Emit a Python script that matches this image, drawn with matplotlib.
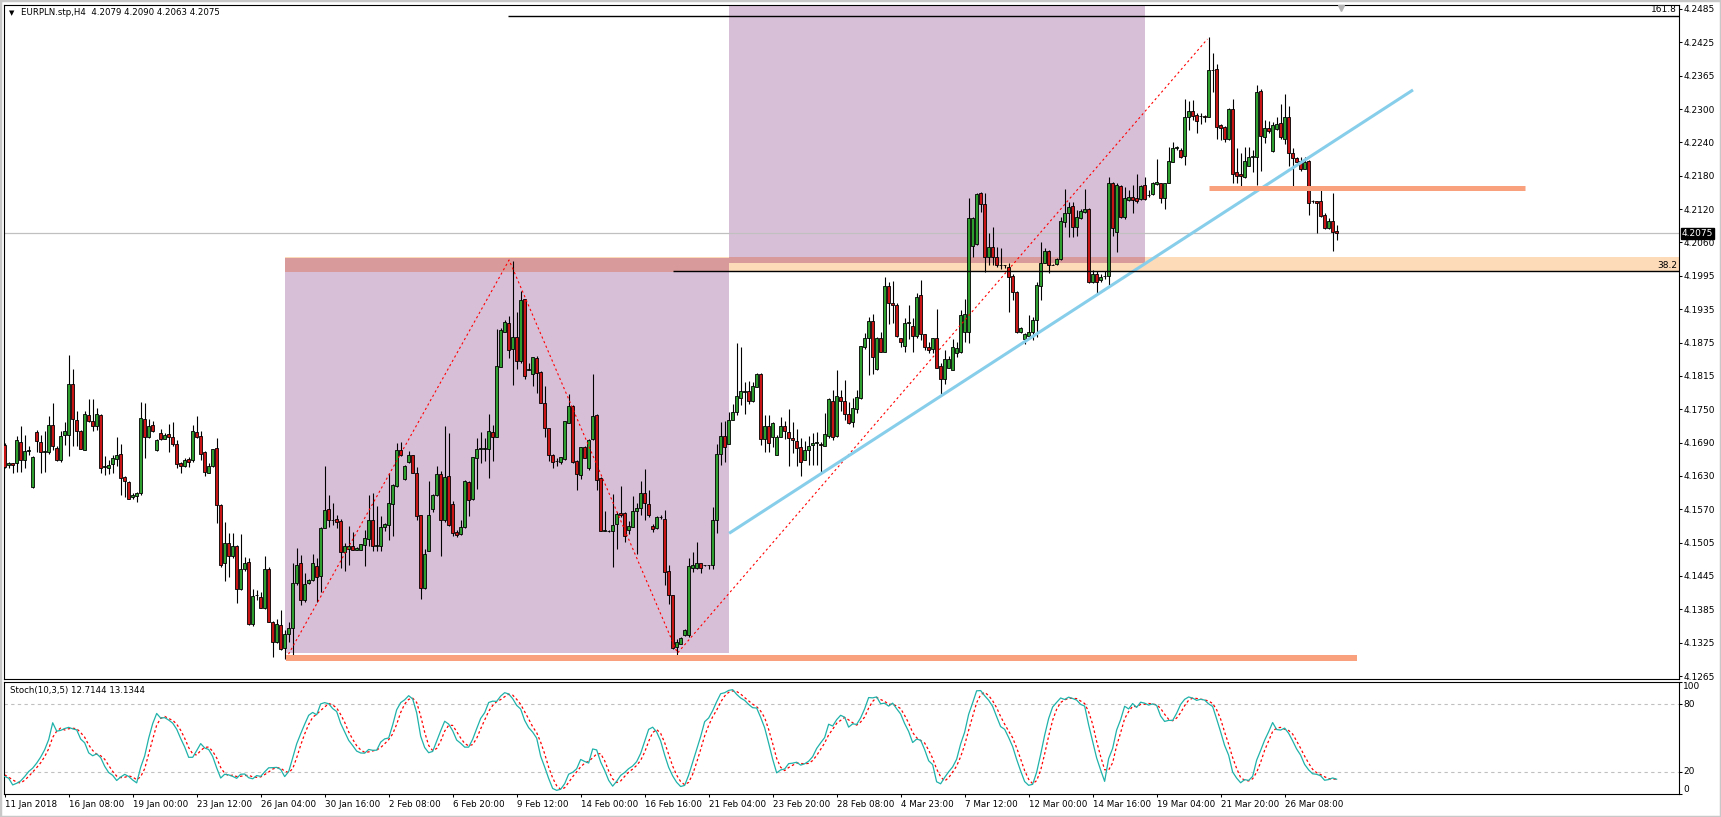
import numpy as np
import matplotlib.pyplot as plt
from matplotlib.patches import Rectangle
from matplotlib.transforms import blended_transform_factory

plt.rcParams['font.family'] = ['DejaVu Sans']

# EURPLN.stp H4 candles, bar 0 = 11 Jan 2018
opens = [
    4.1688, 4.1651, 4.1654, 4.1654, 4.1693, 4.1660, 4.1677, 4.1610, 4.1711, 4.1693,
    4.1675, 4.1675, 4.1724, 4.1682, 4.1660, 4.1706, 4.1705, 4.1799, 4.1733, 4.1713,
    4.1679, 4.1743, 4.1732, 4.1722, 4.1743, 4.1648, 4.1645, 4.1652, 4.1662, 4.1671,
    4.1629, 4.1620, 4.1592, 4.1595, 4.1600, 4.1735, 4.1702, 4.1724, 4.1679, 4.1709,
    4.1699, 4.1707, 4.1703, 4.1689, 4.1655, 4.1650, 4.1662, 4.1660, 4.1711, 4.1704,
    4.1674, 4.1637, 4.1649, 4.1682, 4.1578, 4.1471, 4.1508, 4.1485, 4.1503, 4.1424,
    4.1460, 4.1474, 4.1361, 4.1413, 4.1410, 4.1389, 4.1461, 4.1364, 4.1328, 4.1358,
    4.1316, 4.1341, 4.1352, 4.1435, 4.1471, 4.1404, 4.1435, 4.1440, 4.1466, 4.1448,
    4.1536, 4.1570, 4.1550, 4.1552, 4.1548, 4.1491, 4.1498, 4.1503, 4.1496, 4.1496,
    4.1504, 4.1515, 4.1550, 4.1503, 4.1503, 4.1537, 4.1541, 4.1579, 4.1612, 4.1678,
    4.1625, 4.1656, 4.1669, 4.1637, 4.1559, 4.1426, 4.1494, 4.1570, 4.1596, 4.1634,
    4.1550, 4.1631, 4.1579, 4.1528, 4.1524, 4.1537, 4.1619, 4.1588, 4.1664, 4.1681,
    4.1681, 4.1680, 4.1711, 4.1703, 4.1831, 4.1895, 4.1910, 4.1864, 4.1886, 4.1842,
    4.1954, 4.1825, 4.1817, 4.1847, 4.1821, 4.1765, 4.1718, 4.1670, 4.1658, 4.1657,
    4.1662, 4.1728, 4.1759, 4.1659, 4.1632, 4.1684, 4.1646, 4.1698, 4.1743, 4.1628,
    4.1531, 4.1531, 4.1531, 4.1543, 4.1564, 4.1564, 4.1533, 4.1538, 4.1567, 4.1573,
    4.1599, 4.1579, 4.1539, 4.1535, 4.1556, 4.1553, 4.1457, 4.1413, 4.1318, 4.1324,
    4.1340, 4.1340, 4.1462, 4.1462, 4.1471, 4.1468, 4.1468, 4.1468, 4.1551, 4.1672,
    4.1704, 4.1690, 4.1734, 4.1748, 4.1774, 4.1785, 4.1787, 4.1768, 4.1794, 4.1817,
    4.1698, 4.1723, 4.1703, 4.1670, 4.1703, 4.1722, 4.1712, 4.1701, 4.1695, 4.1684,
    4.1661, 4.1678, 4.1687, 4.1692, 4.1690, 4.1686, 4.1704, 4.1768, 4.1704, 4.1776,
    4.1768, 4.1745, 4.1729, 4.1754, 4.1774, 4.1867, 4.1884, 4.1914, 4.1826, 4.1884,
    4.1858, 4.1978, 4.1947, 4.1944, 4.1883, 4.1869, 4.1911, 4.1906, 4.1887, 4.1962,
    4.1890, 4.1867, 4.1864, 4.1884, 4.1832, 4.1808, 4.1829, 4.1825, 4.1855, 4.1857,
    4.1895, 4.1895, 4.2052, 4.2056, 4.2148, 4.2128, 4.2031, 4.2049, 4.2032, 4.2017,
    4.2016, 4.2014, 4.1996, 4.1968, 4.1895, 4.1882, 4.1887, 4.1895, 4.1916, 4.1979,
    4.2021, 4.2042, 4.2017, 4.2018, 4.2028, 4.2096, 4.2111, 4.2125, 4.2087, 4.2103,
    4.2113, 4.2120, 4.1986, 4.2000, 4.1989, 4.1997, 4.1997, 4.2166, 4.2078, 4.2162,
    4.2105, 4.2136, 4.2142, 4.2139, 4.2137, 4.2163, 4.2144, 4.2147, 4.2165, 4.2166,
    4.2140, 4.2167, 4.2206, 4.2231, 4.2227, 4.2216, 4.2287, 4.2298, 4.2292, 4.2289,
    4.2290, 4.2288, 4.2373, 4.2375, 4.2273, 4.2269, 4.2247, 4.2303, 4.2186, 4.2183,
    4.2178, 4.2198, 4.2215, 4.2215, 4.2335, 4.2250, 4.2268, 4.2226, 4.2265, 4.2276,
    4.2248, 4.2287, 4.2221, 4.2212, 4.2207, 4.2192, 4.2207, 4.2133, 4.2133, 4.2133,
    4.2108, 4.2084, 4.2097, 4.2079,
]
highs = [
    4.1691, 4.1657, 4.1655, 4.1704, 4.1722, 4.1706, 4.1685, 4.1667, 4.1715, 4.1706,
    4.1713, 4.1741, 4.1765, 4.1685, 4.1713, 4.1730, 4.1852, 4.1827, 4.1750, 4.1715,
    4.1750, 4.1771, 4.1771, 4.1756, 4.1744, 4.1668, 4.1661, 4.1669, 4.1703, 4.1689,
    4.1631, 4.1621, 4.1600, 4.1602, 4.1766, 4.1765, 4.1736, 4.1732, 4.1698, 4.1716,
    4.1709, 4.1726, 4.1730, 4.1697, 4.1657, 4.1663, 4.1666, 4.1725, 4.1741, 4.1713,
    4.1677, 4.1654, 4.1681, 4.1701, 4.1579, 4.1546, 4.1527, 4.1526, 4.1505, 4.1524,
    4.1483, 4.1480, 4.1424, 4.1422, 4.1419, 4.1485, 4.1465, 4.1365, 4.1370, 4.1386,
    4.1349, 4.1363, 4.1471, 4.1499, 4.1486, 4.1454, 4.1442, 4.1489, 4.1480, 4.1538,
    4.1650, 4.1597, 4.1581, 4.1560, 4.1553, 4.1509, 4.1539, 4.1529, 4.1501, 4.1507,
    4.1533, 4.1597, 4.1599, 4.1576, 4.1557, 4.1544, 4.1637, 4.1616, 4.1692, 4.1693,
    4.1651, 4.1676, 4.1670, 4.1648, 4.1560, 4.1497, 4.1621, 4.1598, 4.1649, 4.1640,
    4.1722, 4.1710, 4.1585, 4.1532, 4.1550, 4.1623, 4.1621, 4.1666, 4.1700, 4.1712,
    4.1700, 4.1745, 4.1725, 4.1899, 4.1901, 4.1916, 4.1923, 4.2025, 4.1931, 4.1969,
    4.1955, 4.1838, 4.1849, 4.1850, 4.1822, 4.1796, 4.1719, 4.1671, 4.1663, 4.1666,
    4.1732, 4.1780, 4.1760, 4.1660, 4.1684, 4.1685, 4.1698, 4.1817, 4.1744, 4.1629,
    4.1567, 4.1532, 4.1598, 4.1565, 4.1612, 4.1565, 4.1549, 4.1595, 4.1581, 4.1622,
    4.1644, 4.1606, 4.1543, 4.1557, 4.1559, 4.1568, 4.1468, 4.1414, 4.1332, 4.1337,
    4.1351, 4.1480, 4.1492, 4.1510, 4.1472, 4.1469, 4.1469, 4.1574, 4.1690, 4.1730,
    4.1731, 4.1748, 4.1762, 4.1875, 4.1867, 4.1803, 4.1805, 4.1803, 4.1820, 4.1820,
    4.1743, 4.1742, 4.1730, 4.1706, 4.1739, 4.1731, 4.1754, 4.1730, 4.1716, 4.1701,
    4.1695, 4.1704, 4.1709, 4.1712, 4.1693, 4.1746, 4.1773, 4.1789, 4.1825, 4.1789,
    4.1807, 4.1766, 4.1773, 4.1788, 4.1869, 4.1892, 4.1922, 4.1927, 4.1885, 4.1895,
    4.1995, 4.1986, 4.1988, 4.1947, 4.1884, 4.1919, 4.1944, 4.1919, 4.1966, 4.1989,
    4.1891, 4.1876, 4.1884, 4.1936, 4.1838, 4.1861, 4.1850, 4.1881, 4.1876, 4.1934,
    4.1954, 4.2139, 4.2105, 4.2148, 4.2150, 4.2149, 4.2075, 4.2087, 4.2050, 4.2047,
    4.2017, 4.2020, 4.2001, 4.1969, 4.1904, 4.1892, 4.1925, 4.1922, 4.1986, 4.2059,
    4.2047, 4.2044, 4.2018, 4.2029, 4.2105, 4.2155, 4.2132, 4.2132, 4.2117, 4.2120,
    4.2155, 4.2121, 4.2008, 4.2005, 4.2001, 4.2005, 4.2178, 4.2169, 4.2166, 4.2163,
    4.2160, 4.2154, 4.2163, 4.2184, 4.2164, 4.2178, 4.2154, 4.2169, 4.2210, 4.2167,
    4.2167, 4.2233, 4.2241, 4.2234, 4.2230, 4.2320, 4.2316, 4.2319, 4.2294, 4.2294,
    4.2291, 4.2434, 4.2404, 4.2384, 4.2274, 4.2271, 4.2304, 4.2320, 4.2230, 4.2221,
    4.2233, 4.2233, 4.2227, 4.2346, 4.2338, 4.2282, 4.2281, 4.2279, 4.2287, 4.2312,
    4.2329, 4.2308, 4.2230, 4.2215, 4.2215, 4.2215, 4.2209, 4.2136, 4.2134, 4.2161,
    4.2111, 4.2102, 4.2148, 4.2090,
]
lows = [
    4.1645, 4.1645, 4.1637, 4.1639, 4.1639, 4.1645, 4.1669, 4.1609, 4.1675, 4.1636,
    4.1639, 4.1672, 4.1678, 4.1658, 4.1657, 4.1688, 4.1668, 4.1686, 4.1685, 4.1680,
    4.1679, 4.1730, 4.1714, 4.1715, 4.1637, 4.1633, 4.1635, 4.1637, 4.1650, 4.1597,
    4.1593, 4.1588, 4.1589, 4.1583, 4.1596, 4.1663, 4.1700, 4.1711, 4.1677, 4.1696,
    4.1698, 4.1675, 4.1685, 4.1645, 4.1636, 4.1647, 4.1647, 4.1657, 4.1700, 4.1661,
    4.1630, 4.1636, 4.1648, 4.1544, 4.1465, 4.1438, 4.1447, 4.1480, 4.1399, 4.1423,
    4.1458, 4.1358, 4.1357, 4.1404, 4.1389, 4.1388, 4.1363, 4.1300, 4.1325, 4.1313,
    4.1297, 4.1328, 4.1295, 4.1431, 4.1395, 4.1401, 4.1433, 4.1438, 4.1401, 4.1419,
    4.1535, 4.1538, 4.1541, 4.1535, 4.1462, 4.1457, 4.1468, 4.1495, 4.1495, 4.1495,
    4.1466, 4.1503, 4.1494, 4.1494, 4.1494, 4.1530, 4.1514, 4.1521, 4.1610, 4.1668,
    4.1623, 4.1655, 4.1636, 4.1551, 4.1406, 4.1425, 4.1493, 4.1565, 4.1595, 4.1485,
    4.1547, 4.1539, 4.1521, 4.1520, 4.1523, 4.1536, 4.1557, 4.1587, 4.1608, 4.1655,
    4.1659, 4.1628, 4.1659, 4.1702, 4.1830, 4.1894, 4.1847, 4.1798, 4.1826, 4.1837,
    4.1809, 4.1824, 4.1795, 4.1783, 4.1764, 4.1703, 4.1658, 4.1646, 4.1649, 4.1653,
    4.1660, 4.1727, 4.1655, 4.1606, 4.1625, 4.1663, 4.1642, 4.1697, 4.1606, 4.1530,
    4.1531, 4.1529, 4.1465, 4.1498, 4.1556, 4.1510, 4.1524, 4.1537, 4.1488, 4.1560,
    4.1551, 4.1555, 4.1529, 4.1534, 4.1553, 4.1432, 4.1396, 4.1314, 4.1304, 4.1323,
    4.1338, 4.1337, 4.1456, 4.1461, 4.1454, 4.1467, 4.1460, 4.1460, 4.1527, 4.1651,
    4.1657, 4.1689, 4.1733, 4.1742, 4.1760, 4.1745, 4.1762, 4.1767, 4.1793, 4.1687,
    4.1675, 4.1675, 4.1684, 4.1669, 4.1702, 4.1698, 4.1649, 4.1673, 4.1649, 4.1631,
    4.1660, 4.1651, 4.1651, 4.1651, 4.1638, 4.1686, 4.1701, 4.1696, 4.1703, 4.1750,
    4.1733, 4.1726, 4.1721, 4.1746, 4.1771, 4.1864, 4.1815, 4.1818, 4.1825, 4.1857,
    4.1857, 4.1909, 4.1910, 4.1886, 4.1866, 4.1858, 4.1881, 4.1858, 4.1884, 4.1879,
    4.1861, 4.1855, 4.1855, 4.1828, 4.1781, 4.1800, 4.1828, 4.1824, 4.1849, 4.1856,
    4.1876, 4.1875, 4.2032, 4.2054, 4.2114, 4.2004, 4.2017, 4.2017, 4.2014, 4.2009,
    4.2011, 4.1931, 4.1953, 4.1892, 4.1893, 4.1872, 4.1882, 4.1879, 4.1885, 4.1953,
    4.2020, 4.2003, 4.2016, 4.2017, 4.2026, 4.2087, 4.2068, 4.2068, 4.2070, 4.2100,
    4.2112, 4.1983, 4.1983, 4.1965, 4.1986, 4.1992, 4.1979, 4.2069, 4.2041, 4.2103,
    4.2100, 4.2133, 4.2111, 4.2130, 4.2136, 4.2136, 4.2142, 4.2145, 4.2163, 4.2130,
    4.2120, 4.2166, 4.2205, 4.2227, 4.2213, 4.2200, 4.2264, 4.2282, 4.2259, 4.2275,
    4.2279, 4.2287, 4.2334, 4.2247, 4.2245, 4.2242, 4.2245, 4.2166, 4.2166, 4.2157,
    4.2175, 4.2197, 4.2187, 4.2163, 4.2189, 4.2239, 4.2258, 4.2224, 4.2264, 4.2248,
    4.2238, 4.2197, 4.2160, 4.2203, 4.2189, 4.2192, 4.2108, 4.2130, 4.2075, 4.2105,
    4.2083, 4.2082, 4.2043, 4.2063,
]
closes = [
    4.1648, 4.1655, 4.1651, 4.1697, 4.1660, 4.1677, 4.1678, 4.1666, 4.1694, 4.1675,
    4.1676, 4.1725, 4.1685, 4.1660, 4.1704, 4.1713, 4.1799, 4.1735, 4.1713, 4.1681,
    4.1744, 4.1732, 4.1722, 4.1744, 4.1646, 4.1649, 4.1651, 4.1663, 4.1669, 4.1628,
    4.1622, 4.1589, 4.1596, 4.1600, 4.1737, 4.1702, 4.1723, 4.1714, 4.1697, 4.1699,
    4.1706, 4.1703, 4.1689, 4.1653, 4.1650, 4.1660, 4.1657, 4.1713, 4.1703, 4.1672,
    4.1639, 4.1650, 4.1680, 4.1577, 4.1468, 4.1508, 4.1485, 4.1502, 4.1425, 4.1461,
    4.1472, 4.1360, 4.1412, 4.1414, 4.1390, 4.1461, 4.1364, 4.1328, 4.1360, 4.1314,
    4.1342, 4.1352, 4.1435, 4.1469, 4.1405, 4.1433, 4.1440, 4.1471, 4.1447, 4.1536,
    4.1568, 4.1550, 4.1551, 4.1547, 4.1491, 4.1503, 4.1503, 4.1496, 4.1500, 4.1506,
    4.1517, 4.1551, 4.1503, 4.1504, 4.1537, 4.1543, 4.1581, 4.1615, 4.1679, 4.1669,
    4.1650, 4.1670, 4.1637, 4.1558, 4.1426, 4.1489, 4.1560, 4.1597, 4.1634, 4.1550,
    4.1629, 4.1541, 4.1526, 4.1523, 4.1537, 4.1621, 4.1587, 4.1665, 4.1681, 4.1682,
    4.1682, 4.1713, 4.1703, 4.1832, 4.1898, 4.1912, 4.1862, 4.1885, 4.1842, 4.1953,
    4.1814, 4.1826, 4.1848, 4.1819, 4.1765, 4.1718, 4.1670, 4.1657, 4.1659, 4.1665,
    4.1731, 4.1759, 4.1657, 4.1634, 4.1683, 4.1664, 4.1697, 4.1740, 4.1624, 4.1531,
    4.1532, 4.1531, 4.1542, 4.1561, 4.1559, 4.1522, 4.1539, 4.1566, 4.1572, 4.1599,
    4.1581, 4.1560, 4.1534, 4.1555, 4.1555, 4.1456, 4.1413, 4.1317, 4.1327, 4.1335,
    4.1350, 4.1466, 4.1468, 4.1471, 4.1462, 4.1468, 4.1468, 4.1551, 4.1672, 4.1704,
    4.1684, 4.1733, 4.1748, 4.1777, 4.1787, 4.1786, 4.1768, 4.1795, 4.1817, 4.1698,
    4.1723, 4.1692, 4.1727, 4.1703, 4.1722, 4.1714, 4.1701, 4.1697, 4.1682, 4.1656,
    4.1678, 4.1686, 4.1692, 4.1693, 4.1687, 4.1707, 4.1771, 4.1703, 4.1778, 4.1768,
    4.1744, 4.1728, 4.1755, 4.1776, 4.1868, 4.1884, 4.1914, 4.1849, 4.1884, 4.1858,
    4.1978, 4.1947, 4.1944, 4.1887, 4.1876, 4.1910, 4.1912, 4.1887, 4.1959, 4.1890,
    4.1866, 4.1861, 4.1883, 4.1829, 4.1808, 4.1844, 4.1844, 4.1867, 4.1865, 4.1926,
    4.1928, 4.2103, 4.2102, 4.2146, 4.2128, 4.2031, 4.2049, 4.2031, 4.2017, 4.2016,
    4.2016, 4.1994, 4.1968, 4.1895, 4.1901, 4.1890, 4.1895, 4.1916, 4.1980, 4.2021,
    4.2042, 4.2017, 4.2017, 4.2028, 4.2097, 4.2111, 4.2123, 4.2087, 4.2104, 4.2115,
    4.2120, 4.1986, 4.2000, 4.1986, 4.1995, 4.1997, 4.2167, 4.2085, 4.2163, 4.2105,
    4.2139, 4.2142, 4.2136, 4.2134, 4.2162, 4.2137, 4.2145, 4.2166, 4.2168, 4.2140,
    4.2166, 4.2207, 4.2230, 4.2232, 4.2214, 4.2287, 4.2298, 4.2290, 4.2281, 4.2290,
    4.2287, 4.2373, 4.2374, 4.2270, 4.2267, 4.2247, 4.2303, 4.2183, 4.2180, 4.2180,
    4.2207, 4.2215, 4.2216, 4.2334, 4.2252, 4.2268, 4.2261, 4.2273, 4.2275, 4.2250,
    4.2287, 4.2221, 4.2212, 4.2206, 4.2192, 4.2206, 4.2131, 4.2134, 4.2130, 4.2107,
    4.2084, 4.2097, 4.2078, 4.2075,
]

# stochastic values for the first bars (no history before bar 0)
stoch_main_head = [15.6, 14.1, 8.1, 9.6, 11.7, 15.6, 20.1, 23.1, 27.6, 33.0, 39.6, 48.6, 63.6]
stoch_signal_head = [17.0, 15.0]
stoch_text = 'Stoch(10,3,5) 12.7144 13.1344'

# x axis labels, one every 16 bars
date_labels = ['11 Jan 2018', '16 Jan 08:00', '19 Jan 00:00', '23 Jan 12:00', '26 Jan 04:00',
               '30 Jan 16:00', '2 Feb 08:00', '6 Feb 20:00', '9 Feb 12:00', '14 Feb 00:00',
               '16 Feb 16:00', '21 Feb 04:00', '23 Feb 20:00', '28 Feb 08:00', '4 Mar 23:00',
               '7 Mar 12:00', '12 Mar 00:00', '14 Mar 16:00', '19 Mar 04:00', '21 Mar 20:00',
               '26 Mar 08:00']
price_labels = ['4.2485', '4.2425', '4.2365', '4.2300', '4.2240', '4.2180', '4.2120',
                '4.2060', '4.1995', '4.1935', '4.1875', '4.1815', '4.1750', '4.1690',
                '4.1630', '4.1570', '4.1505', '4.1445', '4.1385', '4.1325', '4.1265']

# drawn objects (bar index, price)
zigzag_bars = [70.35, 126.1, 168.2, 300.7]
zigzag_prices = [4.1297, 4.2026, 4.1307, 4.2430]
trend_bars = [181.1, 352.1]
trend_prices = [4.1526, 4.2337]
support_line = (70.3, 338.1, 4.1298)
resist_line = (301.1, 380.0, 4.2157)
zone = (70.1, 4.2004, 4.2031)          # start bar, bottom, top (runs to the right edge)
box1 = (70.1, 181.1, 4.1307, 4.2030)
box2 = (181.1, 285.1, 4.2020, 4.2600)
fib_levels = [('161.8', 125.9, 4.2473), ('38.2', 167.1, 4.2005)]

GREEN = '#2E9E2E'
RED = '#C81414'
PURPLE = '#D8BFD8'
PEACH = '#FDDAB8'
ROSE = '#D99A9C'
SALMON = '#F9A07C'
FS = 6.5

o, h, l, c = (np.array(a) for a in (opens, highs, lows, closes))
n = len(c)
x = np.arange(n)

# Stochastic(10,3,5)
hh = np.full(n, np.nan)
ll = np.full(n, np.nan)
for i in range(9, n):
    hh[i] = h[i - 9:i + 1].max()
    ll[i] = l[i - 9:i + 1].min()
main = np.full(n, np.nan)
for i in range(13, n):
    main[i] = 100 * (c[i - 4:i + 1] - ll[i - 4:i + 1]).sum() / (hh[i - 4:i + 1] - ll[i - 4:i + 1]).sum()
main[:13] = stoch_main_head
signal = np.full(n, np.nan)
signal[:2] = stoch_signal_head
for i in range(2, n):
    signal[i] = main[i - 2:i + 1].mean()

W, H = 1721, 817
fig = plt.figure(figsize=(W / 100, H / 100), dpi=100)


def px_axes(left, top, right, bottom):
    return fig.add_axes([left / W, 1 - bottom / H, (right - left) / W, (bottom - top) / H])


ax = px_axes(3.7, 5, 1679, 679)
ax2 = px_axes(3.7, 682, 1679, 794)
xmax = 418.6

# --- main chart ---
ax.set_xlim(-0.25, xmax)
ax.set_ylim(4.12596, 4.24923)

ax.add_patch(Rectangle((zone[0], zone[1]), xmax - zone[0], zone[2] - zone[1], fc=PEACH, ec='none', zorder=0.5))
ax.add_patch(Rectangle((box1[0], box1[2]), box1[1] - box1[0], box1[3] - box1[2], fc=PURPLE, ec='none', zorder=0.6))
ax.add_patch(Rectangle((box2[0], box2[2]), box2[1] - box2[0], box2[3] - box2[2], fc=PURPLE, ec='none', zorder=0.6))
ax.add_patch(Rectangle((box1[0], zone[1]), box1[1] - box1[0], box1[3] - zone[1], fc=ROSE, ec='none', zorder=0.7))
ax.add_patch(Rectangle((box2[0], box2[2]), box2[1] - box2[0], zone[2] - box2[2], fc=ROSE, ec='none', zorder=0.7))

ax.axhline(c[-1], color='#C0C0C0', lw=0.9, zorder=1)

ax.vlines(x, l, h, color='black', lw=0.8, zorder=2)
body_lo = np.minimum(o, c)
body_h = np.abs(c - o)
ax.bar(x, body_h, bottom=body_lo, width=0.68, color=np.where(c >= o, GREEN, RED),
       edgecolor='black', linewidth=0.6, zorder=3)

ax.plot(zigzag_bars, zigzag_prices, color='red', lw=0.8, ls=(0, (2, 2.5)), zorder=4)
ax.plot(trend_bars, trend_prices, color='#87CEEB', lw=2.2, zorder=4, solid_capstyle='butt')
ax.hlines(support_line[2], support_line[0], support_line[1], color=SALMON, lw=4.3, zorder=4)
ax.hlines(resist_line[2], resist_line[0], resist_line[1], color=SALMON, lw=3.6, zorder=4)

tr = blended_transform_factory(ax.transAxes, ax.transData)
for name, start, level in fib_levels:
    ax.hlines(level, start, xmax, color='black', lw=1.0, zorder=4)
    ax.text(0.9988, level + 0.0002, name, transform=tr, ha='right', va='bottom', fontsize=FS, zorder=5)

ax.plot([334.1], [4.2487], marker='v', ms=5, color='#B4B4B4', clip_on=False, zorder=6)

ax.yaxis.tick_right()
ax.set_yticks([4.2485 - 0.0061 * k for k in range(len(price_labels))])
ax.set_yticklabels(price_labels)
ax.tick_params(axis='y', direction='out', length=2.2, width=0.75, pad=1.2, labelsize=FS)
ax.tick_params(axis='x', bottom=False, labelbottom=False)
ax.text(1.0016, c[-1], f'{c[-1]:.4f}', transform=tr, ha='left', va='center', fontsize=FS,
        color='white', zorder=10, clip_on=False,
        bbox=dict(boxstyle='square,pad=0.12', fc='black', ec='black'))

fig.text(9 / W, 1 - 12.7 / H, '\u25bc', fontsize=5, va='center')
fig.text(20.7 / W, 1 - 12.7 / H,
         f'EURPLN.stp,H4  {o[-1]:.4f} {h[-1]:.4f} {l[-1]:.4f} {c[-1]:.4f}',
         fontsize=6.2, va='center')

# --- stochastic panel ---
ax2.set_xlim(-0.25, xmax)
ax2.set_ylim(0, 100)
for lvl in (80, 20):
    ax2.axhline(lvl, color='#C0C0C0', lw=0.8, ls=(0, (3, 3)), zorder=1)
ax2.plot(x, main, color='#20B2AA', lw=0.9, zorder=3)
ax2.plot(x, signal, color='red', lw=0.9, ls=(0, (2, 2)), zorder=2)

ax2.yaxis.tick_right()
ax2.set_yticks([100, 80, 20, 0])
ax2.set_yticklabels([])
ax2.tick_params(axis='y', direction='out', length=2.2, width=0.75)
tr2 = blended_transform_factory(ax2.transAxes, ax2.transData)
for txt, yv, va in (('100', 100, 'top'), ('80', 80, 'center'), ('20', 20, 'center'), ('0', 0, 'bottom')):
    ax2.text(1.0025, yv, txt, transform=tr2, ha='left', va=va, fontsize=FS, clip_on=False)

ax2.set_xticks(np.arange(0, 16 * len(date_labels), 16))
ax2.set_xticklabels(date_labels)
ax2.tick_params(axis='x', direction='out', length=2.2, width=0.75, pad=2, labelsize=6.3)
plt.setp(ax2.get_xticklabels(), ha='left')
fig.text(9.6 / W, 1 - 690.7 / H, stoch_text, fontsize=6.2, va='center')

for a in (ax, ax2):
    for sp in a.spines.values():
        sp.set_linewidth(0.8)
        sp.set_color('black')

fig.add_artist(Rectangle((0, 0), 1, 1, transform=fig.transFigure, fill=False, ec='#C8C8C8', lw=2.5))

fig.savefig('out.png', dpi=100, facecolor='white')
